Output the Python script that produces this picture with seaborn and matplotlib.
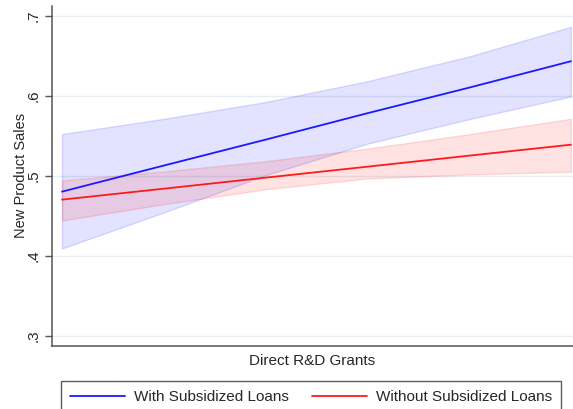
import numpy as np
import matplotlib
matplotlib.use("Agg")
import matplotlib.pyplot as plt
import pandas as pd
import seaborn as sns

# grant levels (x axis has no tick labels in the original)
grants = [0, 1, 2, 3, 4, 5]

# with subsidized loans: predicted value and 95% CI
with_mean = [0.480, 0.5126, 0.545, 0.578, 0.610, 0.643]
with_lo = [0.409, 0.454, 0.5005, 0.540, 0.5706, 0.599]
with_hi = [0.552, 0.571, 0.592, 0.618, 0.649, 0.686]

# without subsidized loans
without_mean = [0.470, 0.4837, 0.4975, 0.5112, 0.5250, 0.5387]
without_lo = [0.444, 0.4643, 0.483, 0.4965, 0.5015, 0.505]
without_hi = [0.494, 0.5053, 0.518, 0.5338, 0.5518, 0.571]

labels = ["With Subsidized Loans", "Without Subsidized Loans"]
yticks = [0.3, 0.4, 0.5, 0.6, 0.7]
ytick_labels = [".3", ".4", ".5", ".6", ".7"]

df = pd.DataFrame({
    "grant": grants + grants,
    "sales": with_mean + without_mean,
    "group": [labels[0]] * len(grants) + [labels[1]] * len(grants),
})

sns.set_style("white")
plt.rcParams["font.family"] = ["Liberation Sans", "DejaVu Sans"]

fig = plt.figure(figsize=(5.73, 4.09), dpi=100)
ax = fig.add_axes([52 / 573, 63.3 / 409, 521 / 573, 339.7 / 409])

# confidence bands
ax.fill_between(grants, with_lo, with_hi, facecolor=(0, 0, 1, 0.11),
                edgecolor=(0, 0, 1, 0.13), linewidth=1, zorder=2)
ax.fill_between(grants, without_lo, without_hi, facecolor=(1, 0, 0, 0.11),
                edgecolor=(1, 0, 0, 0.13), linewidth=1, zorder=2)

sns.lineplot(data=df, x="grant", y="sales", hue="group",
             palette={labels[0]: "#1a1aff", labels[1]: "#ff1a1a"},
             linewidth=1.3, ax=ax, zorder=3)

ax.set_xlim(-0.098, 5.02)
ax.set_ylim(0.2875, 0.712)
ax.set_xticks([])
ax.set_yticks(yticks)
ax.set_yticklabels(ytick_labels, rotation=90, va="center", fontsize=11)
ax.tick_params(axis="y", left=True, length=5, width=1, color="#555555", pad=3)
ax.yaxis.grid(True, color="#e6eef1", linewidth=1)
ax.set_axisbelow(True)

for side in ["top", "right"]:
    ax.spines[side].set_visible(False)
for side in ["left", "bottom"]:
    ax.spines[side].set_color("#555555")
    ax.spines[side].set_linewidth(1.1)

ax.set_ylabel("New Product Sales", fontsize=10.5, labelpad=-1)
ax.set_xlabel("Direct R&D Grants", fontsize=11, labelpad=6)

handles, labs = ax.get_legend_handles_labels()
ax.get_legend().remove()
leg = fig.legend(handles, labs, loc="upper left", ncol=2, mode="expand",
                 bbox_to_anchor=(61 / 573, 0, 500 / 573, 28 / 409),
                 fontsize=11, frameon=True, fancybox=False,
                 handlelength=3.6, handletextpad=0.6, borderaxespad=0,
                 borderpad=0.6)
leg.get_frame().set_edgecolor("#333333")
leg.get_frame().set_linewidth(1)

fig.savefig("out.png", dpi=100)
